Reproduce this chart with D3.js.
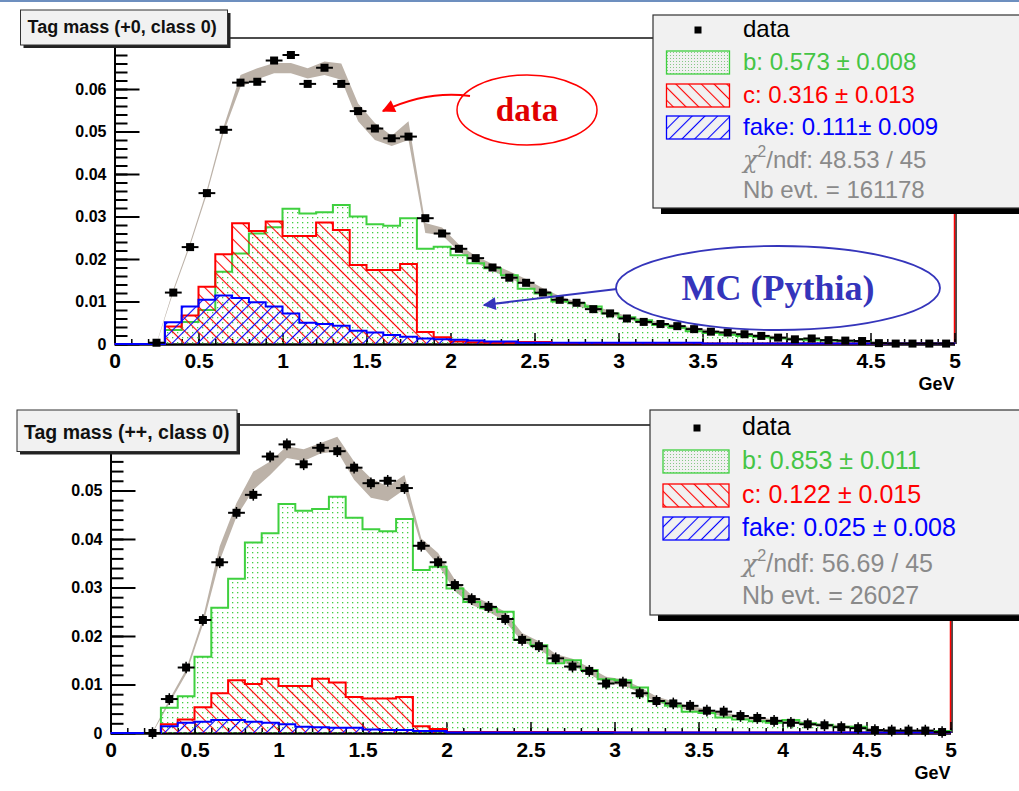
<!DOCTYPE html>
<html>
<head>
<meta charset="utf-8">
<script src="https://cdn.jsdelivr.net/npm/d3@7"></script>
<style>
body { margin: 0; background: #fff; }
svg { display: block; font-family: "Liberation Sans", Arial, Helvetica, sans-serif; }
</style>
</head>
<body>
<svg id="chart" width="1019" height="791"></svg>
<script>
(function() {

// ---- data (tag mass, 0.1 GeV bins from 0 to 5 GeV) ----
const binWidth = 0.1;
const massBins = d3.range(50).map(i => +((i + 0.5) * binWidth).toFixed(2));

const xTicks = [0, 0.5, 1, 1.5, 2, 2.5, 3, 3.5, 4, 4.5, 5];
const xTickLabels = ["0", "0.5", "1", "1.5", "2", "2.5", "3", "3.5", "4", "4.5", "5"];

// panel 1: (+0, class 0)
const yTicksTop = [0, 0.01, 0.02, 0.03, 0.04, 0.05, 0.06];
const yLabelsTop = ["0", "0.01", "0.02", "0.03", "0.04", "0.05", "0.06"];
const dataTop = [null, null, 0.0003, 0.0121, 0.0228, 0.0355, 0.0504, 0.0615, 0.0617, 0.0667,
  0.0680, 0.0612, 0.0650, 0.0612, 0.0548, 0.0507, 0.0484, 0.0488, 0.0296, 0.0260,
  0.0224, 0.0202, 0.0180, 0.0156, 0.0144, 0.0121, 0.0104, 0.0097, 0.0082, 0.0072,
  0.0060, 0.0052, 0.0047, 0.0042, 0.0035, 0.0029, 0.0027, 0.0023, 0.0019, 0.0015,
  0.0011, 0.0013, 0.0009, 0.0008, 0.0007, 0.0002, 0.0001, 0.0001, 0.0001, 0.0001];
const bTop = [0, 0, 0, 0.0033, 0.0052, 0.0080, 0.0170, 0.0213, 0.0260, 0.0275,
  0.0318, 0.0307, 0.0310, 0.0327, 0.0300, 0.0282, 0.0278, 0.0296, 0.0224, 0.0229,
  0.0209, 0.0190, 0.0178, 0.0162, 0.0130, 0.0119, 0.0100, 0.0096, 0.0088, 0.0072,
  0.0063, 0.0056, 0.0045, 0.0038, 0.0030, 0.0026, 0.0022, 0.0019, 0.0016, 0.0013,
  0.0011, 0.0009, 0.0008, 0.0007, 0.0006, 0.0002, 0.0002, 0.0002, 0.0002, 0.0002];
const cTop = [0, 0, 0, 0.0041, 0.0067, 0.0135, 0.0211, 0.0284, 0.0266, 0.0288,
  0.0254, 0.0254, 0.0286, 0.0268, 0.0186, 0.0174, 0.0174, 0.0188, 0.0028, 0.0016,
  0.0006, 0.0004, 0.0003, 0.0003, 0.0005, 0.0005, 0.0002, 0.0002, 0.0002, 0.0002,
  0.0002, 0.0002, 0.0002, 0.0002, 0.0002, 0.0001, 0.0001, 0.0001, 0.0001, 0.0001,
  0.0001, 0.0001, 0.0001, 0.0001, 0.0001, 0.0001, 0.0001, 0.0001, 0.0001, 0.0001];
const fakeTop = [0, 0, 0, 0.0051, 0.0088, 0.0104, 0.0114, 0.0108, 0.0098, 0.0088,
  0.0072, 0.0050, 0.0047, 0.0043, 0.0031, 0.0027, 0.0021, 0.0017, 0.0013, 0.0011,
  0.0010, 0.0008, 0.0006, 0.0006, 0.0003, 0.0003, 0.0003, 0.0003, 0.0003, 0.0003,
  0.0003, 0.0003, 0.0003, 0.0003, 0.0003, 0.0001, 0.0001, 0.0001, 0.0001, 0.0001,
  0.0001, 0.0001, 0.0001, 0.0001, 0.0001, 0.0001, 0.0001, 0.0001, 0.0001, 0.0001];
const mcTop = [null, null, 0, 0.0125, 0.0235, 0.0358, 0.0505, 0.0619, 0.0636, 0.0649,
  0.0649, 0.0637, 0.0649, 0.0641, 0.0545, 0.0500, 0.0478, 0.0502, 0.0273, 0.0265,
  0.0226, 0.0199, 0.0180, 0.0163, 0.0145, 0.0124, 0.0107, 0.0094, 0.0085, 0.0073,
  0.0062, 0.0054, 0.0047, 0.0041, 0.0035, 0.0030, 0.0026, 0.0022, 0.0019, 0.0016,
  0.0013, 0.0011, 0.0009, 0.0008, 0.0007, 0.0004, 0.0003, 0.0002, 0.0002, 0.0001];
const mcErrTop = [0, 0, 0.0002, 0.0003, 0.0004, 0.0005, 0.0007, 0.0014, 0.0013, 0.0012,
  0.0012, 0.0012, 0.0016, 0.0019, 0.0021, 0.0020, 0.0012, 0.0022, 0.0012, 0.0009,
  0.0008, 0.0008, 0.0008, 0.0008, 0.0008, 0.0007, 0.0006, 0.0005, 0.0005, 0.0005,
  0.0004, 0.0004, 0.0004, 0.0004, 0.0003, 0.0003, 0.0003, 0.0003, 0.0003, 0.0002,
  0.0002, 0.0002, 0.0002, 0.0002, 0.0002, 0.0002, 0.0001, 0.0001, 0.0001, 0.0001];
const legendTop = ["data", "b: 0.573 \u00b1 0.008", "c: 0.316 \u00b1 0.013", "fake: 0.111\u00b1 0.009"];
const chi2Top = "48.53 / 45";
const nbTop = "161178";

// panel 2: (++, class 0)
const yTicksBot = [0, 0.01, 0.02, 0.03, 0.04, 0.05];
const yLabelsBot = ["0", "0.01", "0.02", "0.03", "0.04", "0.05"];
const dataBot = [null, null, 0.0000, 0.0070, 0.0135, 0.0233, 0.0352, 0.0454, 0.0491, 0.0570,
  0.0595, 0.0554, 0.0588, 0.0581, 0.0547, 0.0515, 0.0520, 0.0505, 0.0386, 0.0352,
  0.0305, 0.0276, 0.0260, 0.0235, 0.0192, 0.0179, 0.0154, 0.0137, 0.0128, 0.0102,
  0.0104, 0.0082, 0.0066, 0.0061, 0.0056, 0.0046, 0.0044, 0.0035, 0.0031, 0.0025,
  0.0021, 0.0018, 0.0016, 0.0012, 0.0010, 0.0006, 0.0005, 0.0005, 0.0005, 0.0002];
const bBot = [0, 0, 0, 0.0052, 0.0076, 0.0157, 0.0258, 0.0318, 0.0393, 0.0412,
  0.0472, 0.0458, 0.0462, 0.0487, 0.0444, 0.0420, 0.0416, 0.0441, 0.0336, 0.0343,
  0.0298, 0.0270, 0.0257, 0.0250, 0.0192, 0.0181, 0.0144, 0.0150, 0.0130, 0.0111,
  0.0109, 0.0094, 0.0065, 0.0056, 0.0044, 0.0041, 0.0032, 0.0028, 0.0024, 0.0021,
  0.0027, 0.0020, 0.0017, 0.0013, 0.0013, 0.0004, 0.0004, 0.0004, 0.0004, 0.0004];
const cBot = [0, 0, 0, 0.0018, 0.0028, 0.0053, 0.0082, 0.0109, 0.0101, 0.0112,
  0.0097, 0.0097, 0.0112, 0.0104, 0.0074, 0.0071, 0.0071, 0.0074, 0.0014, 0.0008,
  0.0002, 0.0002, 0.0002, 0.0002, 0.0002, 0.0002, 0.0002, 0.0002, 0.0002, 0.0002,
  0.0001, 0.0001, 0.0001, 0.0001, 0.0001, 0.0001, 0.0001, 0.0001, 0.0001, 0.0001,
  0.0001, 0.0001, 0.0001, 0.0001, 0.0001, 0.0001, 0.0001, 0.0001, 0.0001, 0.0001];
const fakeBot = [0, 0, 0, 0.0014, 0.0021, 0.0023, 0.0027, 0.0027, 0.0023, 0.0021,
  0.0018, 0.0013, 0.0012, 0.0011, 0.0011, 0.0007, 0.0006, 0.0006, 0.0004, 0.0004,
  0.0001, 0.0001, 0.0001, 0.0001, 0.0001, 0.0001, 0.0001, 0.0001, 0.0001, 0.0001,
  0.0001, 0.0001, 0.0001, 0.0001, 0.0001, 0.0001, 0.0001, 0.0001, 0.0001, 0.0001,
  0.0001, 0.0001, 0.0001, 0.0001, 0.0001, 0.0001, 0.0001, 0.0001, 0.0001, 0.0001];
const mcBot = [null, null, 0, 0.0065, 0.0126, 0.0230, 0.0370, 0.0460, 0.0520, 0.0546,
  0.0579, 0.0573, 0.0587, 0.0596, 0.0541, 0.0505, 0.0493, 0.0517, 0.0394, 0.0359,
  0.0304, 0.0274, 0.0259, 0.0240, 0.0197, 0.0181, 0.0156, 0.0146, 0.0128, 0.0109,
  0.0105, 0.0089, 0.0069, 0.0060, 0.0051, 0.0045, 0.0038, 0.0033, 0.0029, 0.0025,
  0.0024, 0.0019, 0.0016, 0.0013, 0.0012, 0.0006, 0.0005, 0.0004, 0.0004, 0.0003];
const mcErrBot = [0, 0, 0.0002, 0.0004, 0.0005, 0.0007, 0.0015, 0.0014, 0.0019, 0.0014,
  0.0012, 0.0012, 0.0011, 0.0015, 0.0019, 0.0020, 0.0015, 0.0015, 0.0007, 0.0012,
  0.0012, 0.0010, 0.0009, 0.0010, 0.0009, 0.0008, 0.0007, 0.0007, 0.0007, 0.0007,
  0.0006, 0.0006, 0.0006, 0.0005, 0.0005, 0.0004, 0.0004, 0.0004, 0.0004, 0.0003,
  0.0003, 0.0003, 0.0003, 0.0003, 0.0003, 0.0002, 0.0002, 0.0002, 0.0002, 0.0002];
const legendBot = ["data", "b: 0.853 \u00b1 0.011", "c: 0.122 \u00b1 0.015", "fake: 0.025 \u00b1 0.008"];
const chi2Bot = "56.69 / 45";
const nbBot = "26027";

// ---- styles ----
const GREEN = "#3fd03f";
const GREEN_TXT = "#45c545";
const RED = "#ff0000";
const BLUE = "#0000ff";
const GREY_TXT = "#8a8a8a";
const BAND = "#bcb2a8";
const NOTE_BLUE = "#3535bb";

const svg = d3.select("#chart");
const defs = svg.append("defs");

function hatch(id, color, angle, gap) {
    const p = defs.append("pattern")
        .attr("id", id)
        .attr("patternUnits", "userSpaceOnUse")
        .attr("width", gap)
        .attr("height", gap)
        .attr("patternTransform", `rotate(${angle})`);
    p.append("line")
        .attr("x1", gap / 2).attr("y1", 0)
        .attr("x2", gap / 2).attr("y2", gap)
        .attr("stroke", color)
        .attr("stroke-width", 1.1);
}
hatch("hatchC", RED, -45, 9);
hatch("hatchF", BLUE, 45, 9);

const dots = defs.append("pattern")
    .attr("id", "dotsB")
    .attr("patternUnits", "userSpaceOnUse")
    .attr("width", 5).attr("height", 5);
dots.append("rect").attr("x", 2).attr("y", 2).attr("width", 1.3).attr("height", 1.3).attr("fill", GREEN);

const dotsLeg = defs.append("pattern")
    .attr("id", "dotsLeg")
    .attr("patternUnits", "userSpaceOnUse")
    .attr("width", 3).attr("height", 3);
dotsLeg.append("rect").attr("x", 1).attr("y", 1).attr("width", 1).attr("height", 1).attr("fill", "#86c886");

function arrowHead(id, color) {
    defs.append("marker")
        .attr("id", id)
        .attr("viewBox", "0 0 10 10")
        .attr("refX", 9).attr("refY", 5)
        .attr("markerUnits", "userSpaceOnUse")
        .attr("markerWidth", 17).attr("markerHeight", 13)
        .attr("orient", "auto")
        .append("path")
        .attr("d", "M0,0 L10,5 L0,10 Z")
        .attr("fill", color);
}
arrowHead("arrRed", RED);
arrowHead("arrBlue", NOTE_BLUE);

// thin slide border line at the very top
svg.append("rect").attr("x", 0).attr("y", 0).attr("width", 1019).attr("height", 2).attr("fill", "#6d8fbf");

function stepPoints(vals) {
    const pts = [[0, 0]];
    vals.forEach(function(v, i) {
        pts.push([i * binWidth, v], [(i + 1) * binWidth, v]);
    });
    pts.push([5, 0]);
    return pts;
}

function drawPanel(p) {
    const g = svg.append("g");
    const x = d3.scaleLinear().domain([0, 5]).range([p.left, p.right]);
    const y = d3.scaleLinear().domain([0, p.yMax]).range([p.base, p.top]);

    // frame
    g.append("line")
        .attr("x1", p.left).attr("y1", p.top).attr("x2", p.right + 1.5).attr("y2", p.top)
        .attr("stroke", "#111").attr("stroke-width", 1.5);
    g.append("line")
        .attr("x1", p.right + 1.5).attr("y1", p.top).attr("x2", p.right + 1.5).attr("y2", p.base)
        .attr("stroke", "#111").attr("stroke-width", 1.5);
    g.append("line")
        .attr("x1", p.right).attr("y1", p.top).attr("x2", p.right).attr("y2", p.base)
        .attr("stroke", RED).attr("stroke-width", 1.5);

    // MC fit band
    const bandData = massBins.map((m, i) => ({ m: m, c: p.mc[i], e: p.mcErr[i] }));
    g.append("path")
        .datum(bandData)
        .attr("d", d3.area()
            .defined(d => d.c !== null)
            .x(d => x(d.m))
            .y0(d => y(Math.max(0, d.c - d.e)))
            .y1(d => y(d.c + d.e)))
        .attr("fill", BAND);

    // axes
    const yMinor = d3.range(0, p.yMax, 0.002);
    g.append("g")
        .attr("transform", `translate(${p.left},0)`)
        .call(d3.axisRight(y).tickValues(yMinor).tickSize(13).tickSizeOuter(0).tickFormat(""))
        .call(a => a.select(".domain").remove())
        .call(a => a.selectAll("line").attr("stroke", "#000").attr("stroke-width", 2));
    g.append("g")
        .attr("transform", `translate(${p.left},0)`)
        .call(d3.axisLeft(y).tickValues(p.yTicks).tickSize(-25).tickSizeOuter(0).tickPadding(8)
            .tickFormat((d, i) => p.yLabels[i]))
        .call(a => a.select(".domain").attr("stroke", "#000").attr("stroke-width", 2))
        .call(a => a.selectAll("line").attr("stroke", "#000").attr("stroke-width", 2))
        .call(a => a.selectAll("text")
            .attr("font-size", 16).attr("font-weight", "bold").attr("fill", "#000")
            .attr("font-family", "Liberation Sans, Arial, sans-serif"));

    const xMinor = d3.range(0, 5.001, 0.1);
    g.append("g")
        .attr("transform", `translate(0,${p.base})`)
        .call(d3.axisBottom(x).tickValues(xMinor).tickSize(-5).tickSizeOuter(0).tickFormat(""))
        .call(a => a.select(".domain").attr("stroke", "#000").attr("stroke-width", 2.5))
        .call(a => a.selectAll("line").attr("stroke", "#000").attr("stroke-width", 1.5));
    g.append("g")
        .attr("transform", `translate(0,${p.base})`)
        .call(d3.axisBottom(x).tickValues(xTicks).tickSize(-11).tickSizeOuter(0)
            .tickFormat((d, i) => xTickLabels[i]))
        .call(a => a.select(".domain").remove())
        .call(a => a.selectAll("line").attr("stroke", "#000").attr("stroke-width", 1.5))
        .call(a => a.selectAll("text")
            .attr("y", 24).attr("dy", null)
            .attr("font-size", 21).attr("font-weight", "bold").attr("fill", "#000")
            .attr("font-family", "Liberation Sans, Arial, sans-serif"));
    g.append("text")
        .attr("x", p.right).attr("y", p.base + 46)
        .attr("text-anchor", "end")
        .attr("font-size", 18).attr("font-weight", "bold")
        .text("GeV");

    // template histograms
    const line = d3.line().x(d => x(d[0])).y(d => y(d[1]));
    [[p.b, "url(#dotsB)", GREEN], [p.c, "url(#hatchC)", RED], [p.fake, "url(#hatchF)", BLUE]]
        .forEach(function(h) {
            g.append("path")
                .datum(stepPoints(h[0]))
                .attr("d", line)
                .attr("fill", h[1])
                .attr("stroke", h[2])
                .attr("stroke-width", 2);
        });

    // data points
    const pts = massBins.map((m, i) => ({ m: m, v: p.data[i] })).filter(d => d.v !== null);
    const dg = g.append("g");
    dg.selectAll("line.h")
        .data(pts).enter().append("line")
        .attr("x1", d => x(d.m - binWidth / 2)).attr("x2", d => x(d.m + binWidth / 2))
        .attr("y1", d => y(d.v)).attr("y2", d => y(d.v))
        .attr("stroke", "#000").attr("stroke-width", 2);
    dg.selectAll("line.v")
        .data(pts).enter().append("line")
        .attr("x1", d => x(d.m)).attr("x2", d => x(d.m))
        .attr("y1", d => y(d.v - p.dataErr)).attr("y2", d => y(d.v + p.dataErr))
        .attr("stroke", "#000").attr("stroke-width", 1.5);
    dg.selectAll("rect")
        .data(pts).enter().append("rect")
        .attr("x", d => x(d.m) - 4).attr("y", d => y(d.v) - 4)
        .attr("width", 8).attr("height", 8)
        .attr("fill", "#000");

    // title box
    const t = p.title;
    g.append("rect").attr("x", t.x + 3).attr("y", t.y + 3).attr("width", t.w).attr("height", t.h).attr("fill", "#222");
    g.append("rect").attr("x", t.x).attr("y", t.y).attr("width", t.w).attr("height", t.h)
        .attr("fill", "#f1f1f1").attr("stroke", "#333").attr("stroke-width", 1);
    g.append("text").attr("x", t.x + 7).attr("y", t.base)
        .attr("font-size", t.fs).attr("font-weight", "bold").attr("fill", "#111")
        .text(t.text);

    // legend box
    const L = p.legend;
    g.append("rect").attr("x", L.x + 8).attr("y", L.y + 6).attr("width", L.w).attr("height", L.h).attr("fill", "#000");
    g.append("rect").attr("x", L.x).attr("y", L.y).attr("width", L.w).attr("height", L.h)
        .attr("fill", "#f1f1f1").attr("stroke", "#333").attr("stroke-width", 1.2);
    g.append("rect").attr("x", L.markX - 3.5).attr("y", L.markY - 3.5).attr("width", 7).attr("height", 7).attr("fill", "#000");
    const swFill = ["url(#dotsLeg)", "url(#hatchC)", "url(#hatchF)"];
    const swStroke = [GREEN, RED, BLUE];
    const txtCol = ["#000", GREEN_TXT, RED, BLUE];
    [1, 2, 3].forEach(function(r) {
        g.append("rect")
            .attr("x", L.swX).attr("y", L.rows[r] - 19).attr("width", L.swW).attr("height", 23)
            .attr("fill", swFill[r - 1]).attr("stroke", swStroke[r - 1]).attr("stroke-width", 1.3);
    });
    L.entries.forEach(function(s, r) {
        g.append("text").attr("x", L.textX).attr("y", L.rows[r])
            .attr("font-size", L.fs).attr("fill", txtCol[r]).text(s);
    });
    const chi = g.append("text").attr("x", L.textX).attr("y", L.rows[4])
        .attr("font-size", L.fs).attr("fill", GREY_TXT);
    chi.append("tspan").attr("font-family", "DejaVu Serif, serif").attr("font-style", "italic").text("\u03c7");
    chi.append("tspan").attr("font-size", L.fs * 0.65).attr("dy", -L.fs * 0.45).text("2");
    chi.append("tspan").attr("dy", L.fs * 0.45).text("/ndf: " + L.chi2);
    g.append("text").attr("x", L.textX).attr("y", L.rows[5])
        .attr("font-size", L.fs).attr("fill", GREY_TXT).text("Nb evt. = " + L.nb);
}

drawPanel({
    left: 114.5, right: 954.5, top: 38, base: 344, yMax: 0.072,
    yTicks: yTicksTop, yLabels: yLabelsTop,
    data: dataTop, dataErr: 0.0007, b: bTop, c: cTop, fake: fakeTop, mc: mcTop, mcErr: mcErrTop,
    title: { x: 20.5, y: 10, w: 207, h: 35, base: 33, fs: 18, text: "Tag mass (+0, class 0)" },
    legend: { x: 653, y: 15, w: 400, h: 193, rows: [37, 70, 103, 135, 168, 198], textX: 743,
        swX: 666.5, swW: 63, markX: 698, markY: 30, fs: 24,
        entries: legendTop, chi2: chi2Top, nb: nbTop }
});

drawPanel({
    left: 110.5, right: 950.5, top: 425, base: 733, yMax: 0.0635,
    yTicks: yTicksBot, yLabels: yLabelsBot,
    data: dataBot, dataErr: 0.0012, b: bBot, c: cBot, fake: fakeBot, mc: mcBot, mcErr: mcErrBot,
    title: { x: 17, y: 410, w: 220, h: 41.5, base: 438.5, fs: 19.5, text: "Tag mass (++, class 0)" },
    legend: { x: 650, y: 410, w: 400, h: 205, rows: [435, 469, 503, 536, 572, 604], textX: 742,
        swX: 663, swW: 66, markX: 697, markY: 428, fs: 25,
        entries: legendBot, chi2: chi2Bot, nb: nbBot }
});

// annotations
svg.append("ellipse")
    .attr("cx", 527).attr("cy", 110).attr("rx", 70).attr("ry", 35)
    .attr("fill", "#fff").attr("stroke", RED).attr("stroke-width", 1.5);
svg.append("text")
    .attr("x", 527).attr("y", 121).attr("text-anchor", "middle")
    .attr("font-family", "Liberation Serif, Times New Roman, serif")
    .attr("font-weight", "bold").attr("font-size", 33).attr("fill", "#e00000")
    .text("data");
svg.append("path")
    .attr("d", "M470,96 Q428,90 383,111")
    .attr("fill", "none").attr("stroke", RED).attr("stroke-width", 2)
    .attr("marker-end", "url(#arrRed)");

svg.append("ellipse")
    .attr("cx", 778).attr("cy", 288).attr("rx", 162).attr("ry", 42)
    .attr("fill", "none").attr("stroke", NOTE_BLUE).attr("stroke-width", 1.8);
svg.append("text")
    .attr("x", 778).attr("y", 300).attr("text-anchor", "middle")
    .attr("font-family", "Liberation Serif, Times New Roman, serif")
    .attr("font-weight", "bold").attr("font-size", 36).attr("fill", NOTE_BLUE)
    .text("MC (Pythia)");
svg.append("path")
    .attr("d", "M617,289 L484,305")
    .attr("fill", "none").attr("stroke", NOTE_BLUE).attr("stroke-width", 2)
    .attr("marker-end", "url(#arrBlue)");

})();
</script>
</body>
</html>
